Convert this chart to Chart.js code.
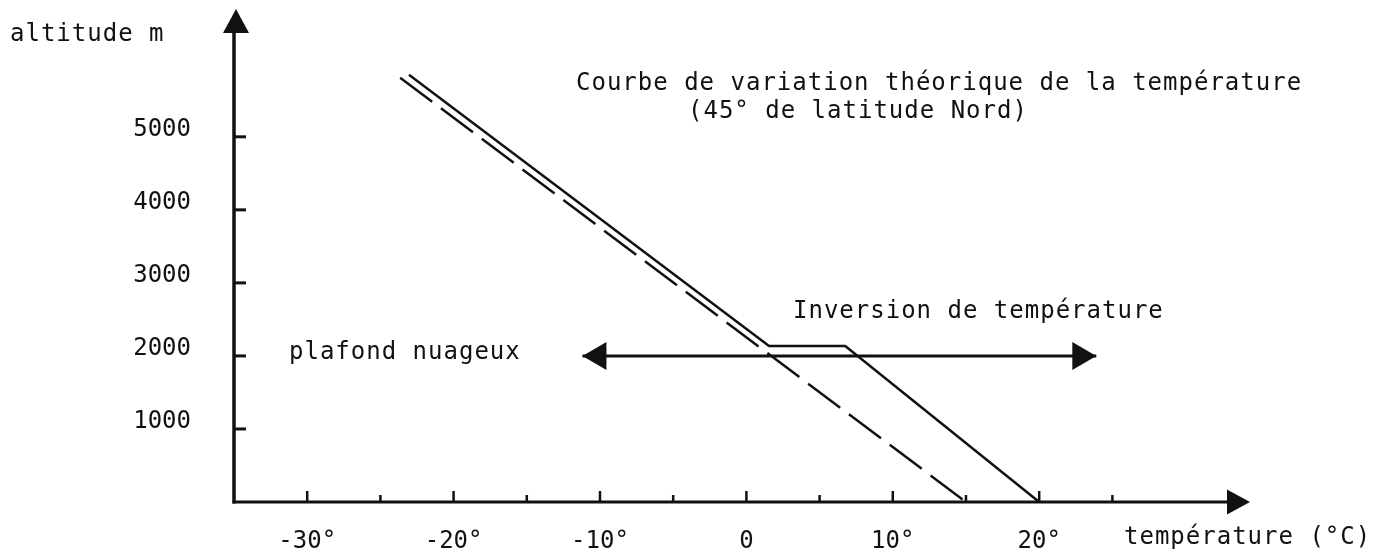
<!DOCTYPE html>
<html>
<head>
<meta charset="utf-8">
<script src="https://cdn.jsdelivr.net/npm/chart.js@4.4.1/dist/chart.umd.min.js"></script>
<style>
html, body { margin: 0; padding: 0; background: #fff; }
#okvir { width: 1379px; height: 556px; }
</style>
</head>
<body>
<div id="okvir"><canvas id="grafik" width="1379" height="556"></canvas></div>
<script>
// osa x: temperatura (°C), osa y: altitude (m)
const tempTicks = [-30, -25, -20, -15, -10, -5, 0, 5, 10, 15, 20, 25];
const tempLabelVals = [-30, -20, -10, 0, 10, 20];
const tempLabels = ['-30°', '-20°', '-10°', '0', '10°', '20°'];
const altTicks = [1000, 2000, 3000, 4000, 5000];
const altLabels = ['1000', '2000', '3000', '4000', '5000'];

// krivulja sa inverzijom (puna linija)
const reelTemp = [-23.05, 1.55, 6.75, 20];
const reelAlt = [5850, 2135, 2135, 0];

// teorijska krivulja (isprekidana)
const theoTemp = [-23.65, 15];
const theoAlt = [5810, 0];

// plafond nuageux (strelica na 2000 m)
const plafondTemp = [-11.2, 23.9];
const plafondAlt = [2000, 2000];

const tempMin = -35, tempMax = 34.4;
const altMin = 0, altMax = 6750;

const boja = '#111';
const font = '24px "DejaVu Sans Mono"';

function tacke(xs, ys) {
    return xs.map((x, i) => ({ x: x, y: ys[i] }));
}

function strelica(ctx, tx, ty, dx, dy, duz, pola) {
    // vrh u (tx,ty), smjer (dx,dy)
    const bx = tx - dx * duz, by = ty - dy * duz;
    ctx.beginPath();
    ctx.moveTo(tx, ty);
    ctx.lineTo(bx - dy * pola, by + dx * pola);
    ctx.lineTo(bx + dy * pola, by - dx * pola);
    ctx.closePath();
    ctx.fill();
}

function tekst(ctx, s, x, y, align, razmak) {
    ctx.letterSpacing = (razmak || 0) + 'px';
    ctx.textAlign = align;
    ctx.fillText(s, x, y);
    ctx.letterSpacing = '0px';
}

const osePlugin = {
    id: 'ose',
    afterDatasetsDraw(chart) {
        const ctx = chart.ctx;
        const sx = chart.scales.x, sy = chart.scales.y;
        const x0 = sx.getPixelForValue(tempMin);
        const y0 = sy.getPixelForValue(0);
        const yTop = sy.getPixelForValue(altMax);
        const xEnd = sx.getPixelForValue(tempMax);

        ctx.save();
        ctx.strokeStyle = boja;
        ctx.fillStyle = boja;
        ctx.lineCap = 'butt';

        // osa y
        ctx.lineWidth = 3.5;
        ctx.beginPath();
        ctx.moveTo(x0, y0 + 1.5);
        ctx.lineTo(x0, yTop + 20);
        ctx.stroke();
        strelica(ctx, x0 + 2, yTop, 0, -1, 24, 13);

        // osa x
        ctx.lineWidth = 3;
        ctx.beginPath();
        ctx.moveTo(x0 - 1.5, y0);
        ctx.lineTo(xEnd - 20, y0);
        ctx.stroke();
        strelica(ctx, xEnd, y0, 1, 0, 23, 12.5);

        // podjele na osi x
        ctx.lineWidth = 2.5;
        tempTicks.forEach(t => {
            const px = sx.getPixelForValue(t);
            const duz = (t % 10 === 0) ? 11 : 7;
            ctx.beginPath();
            ctx.moveTo(px, y0);
            ctx.lineTo(px, y0 - duz);
            ctx.stroke();
        });

        // podjele na osi y
        ctx.lineWidth = 3;
        altTicks.forEach(a => {
            const py = sy.getPixelForValue(a);
            ctx.beginPath();
            ctx.moveTo(x0, py);
            ctx.lineTo(x0 + 12, py);
            ctx.stroke();
        });

        // strelice plafonda
        const meta = chart.getDatasetMeta(2);
        const p1 = meta.data[0], p2 = meta.data[1];
        strelica(ctx, p1.x, p1.y, -1, 0, 24, 14);
        strelica(ctx, p2.x, p2.y, 1, 0, 24, 14);

        // tekstovi
        ctx.font = font;
        ctx.textBaseline = 'middle';
        tempLabelVals.forEach((t, i) => {
            tekst(ctx, tempLabels[i], sx.getPixelForValue(t), y0 + 40, 'center', 0);
        });
        altTicks.forEach((a, i) => {
            tekst(ctx, altLabels[i], 191, sy.getPixelForValue(a) - 7, 'right', 0);
        });

        tekst(ctx, 'altitude m', 10, 35, 'left', 1);
        tekst(ctx, 'température (°C)', 1124, 538, 'left', 1);
        tekst(ctx, 'Courbe de variation théorique de la température', 576, 84, 'left', 1);
        tekst(ctx, '(45° de latitude Nord)', 688, 112, 'left', 1);
        tekst(ctx, 'Inversion de température', 793, 312, 'left', 1);
        tekst(ctx, 'plafond nuageux', 289, 353, 'left', 1);

        ctx.restore();
    }
};

const grafik = new Chart(document.getElementById('grafik').getContext('2d'), {
    type: 'scatter',
    data: {
        datasets: [
            {
                label: 'avec inversion',
                data: tacke(reelTemp, reelAlt),
                showLine: true,
                borderColor: boja,
                borderWidth: 2.5,
                pointRadius: 0,
                tension: 0,
                clip: false
            },
            {
                label: 'théorique',
                data: tacke(theoTemp, theoAlt),
                showLine: true,
                borderColor: boja,
                borderWidth: 2.5,
                borderDash: [40, 11],
                pointRadius: 0,
                tension: 0,
                clip: false
            },
            {
                label: 'plafond nuageux',
                data: tacke(plafondTemp, plafondAlt),
                showLine: true,
                borderColor: boja,
                borderWidth: 3,
                pointRadius: 0,
                tension: 0,
                clip: false
            }
        ]
    },
    options: {
        responsive: false,
        animation: false,
        layout: { padding: { left: 234, right: 129, top: 9, bottom: 54 } },
        plugins: { legend: { display: false }, tooltip: { enabled: false } },
        scales: {
            x: { type: 'linear', min: tempMin, max: tempMax, display: false },
            y: { type: 'linear', min: altMin, max: altMax, display: false }
        }
    },
    plugins: [osePlugin]
});
</script>
</body>
</html>
